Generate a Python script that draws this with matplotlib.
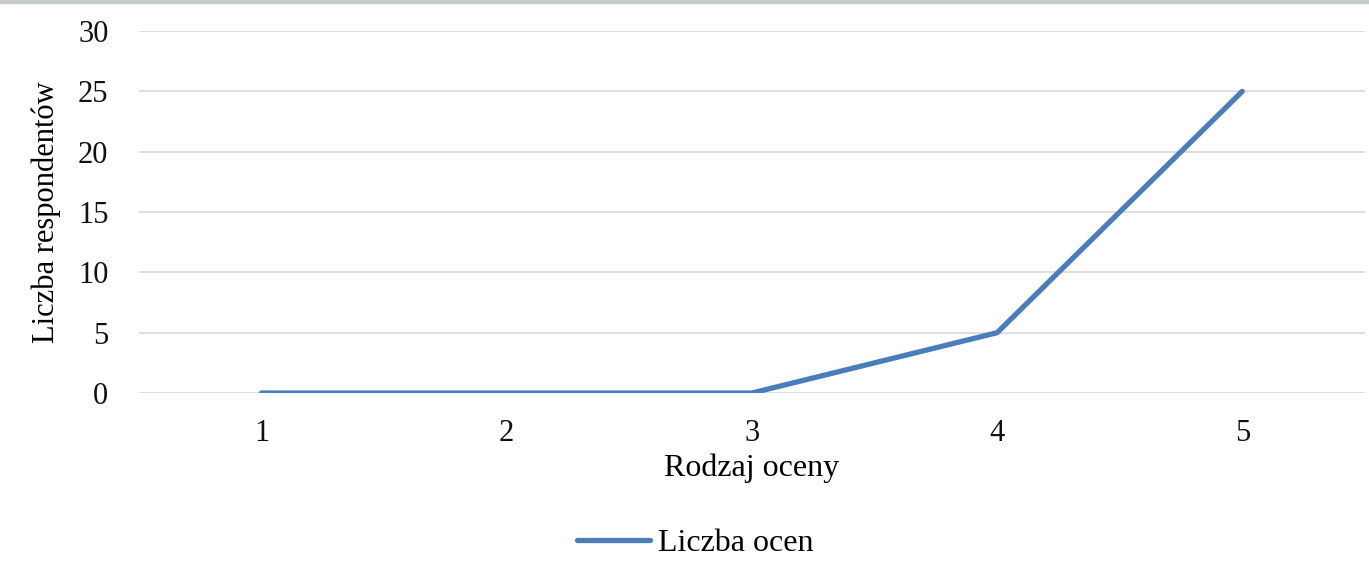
import numpy as np
import matplotlib.pyplot as plt

plt.rcParams['font.family'] = ['Liberation Serif', 'DejaVu Serif']

oceny = ['1', '2', '3', '4', '5']
liczba_ocen = [0, 0, 0, 5, 25]

fig = plt.figure(figsize=(13.69, 5.71), dpi=100)
# thin band along the top edge as in the source screenshot
fig.patches.append(plt.Rectangle((0, 0.995), 1, 0.005, transform=fig.transFigure,
                                 color='#c5cfc5', zorder=0))
ax = fig.add_axes([0.1015, 0.3117, 0.8955, 0.634])

x = np.arange(len(oceny))
ax.plot(x, liczba_ocen, color='#4a7ebb', lw=3.8, solid_capstyle='round',
        label='Liczba ocen', zorder=3)

ax.set_xlim(-0.5, len(oceny) - 0.5)
ax.set_ylim(0, 30)
ax.set_yticks(range(0, 31, 5))
ax.set_xticks(x)
ax.set_xticklabels(oceny)
ax.grid(axis='y', color='#d4d4d4', lw=1.1)
ax.set_axisbelow(True)
for s in ax.spines.values():
    s.set_visible(False)
ax.tick_params(length=0, labelsize=22, colors='#111111')
ax.tick_params(axis='x', pad=19)
ax.tick_params(axis='y', pad=22)

ax.set_xlabel('Rodzaj oceny', fontsize=23, labelpad=4)
ax.set_ylabel('Liczba respondentów', fontsize=22, labelpad=12)

fig.legend(loc='center', bbox_to_anchor=(0.508, 0.049), frameon=False,
           fontsize=23, handlelength=2.3, handletextpad=0.25)

fig.savefig('out.png', dpi=100)
